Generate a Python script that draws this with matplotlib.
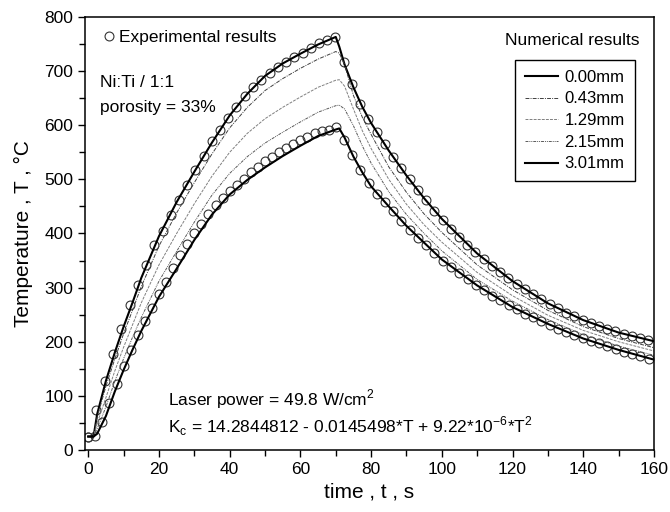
import matplotlib
matplotlib.use('Agg')
import matplotlib.pyplot as plt

plt.rcParams['font.family'] = ['Liberation Sans', 'DejaVu Sans']
plt.rcParams['mathtext.fontset'] = 'custom'
plt.rcParams['mathtext.rm'] = 'Liberation Sans'

# experimental points, surface (0.00 mm)
t_exp_top = [0, 2.3, 4.7, 7.0, 9.3, 11.7, 14.0, 16.3, 18.6, 21.0, 23.3, 25.6, 28.0, 30.3,
             32.6, 35.0, 37.3, 39.6, 41.9, 44.3, 46.6, 48.9, 51.3, 53.6, 55.9, 58.3, 60.6,
             62.9, 65.2, 67.6, 69.9, 72.2, 74.6, 76.9, 79.2, 81.6, 83.9, 86.2, 88.5, 90.9,
             93.2, 95.5, 97.9, 100.2, 102.5, 104.9, 107.2, 109.5, 111.8, 114.2, 116.5, 118.8,
             121.2, 123.5, 125.8, 128.2, 130.5, 132.8, 135.1, 137.5, 139.8, 142.1, 144.5,
             146.8, 149.1, 151.5, 153.8, 156.1, 158.4]
T_exp_top = [24, 74, 127, 178, 224, 268, 304, 342, 378, 405, 435, 462, 490, 517,
             544, 570, 592, 614, 634, 653, 670, 684, 696, 708, 717, 726, 734,
             742, 751, 758, 762, 717, 676, 640, 612, 588, 565, 542, 521, 500,
             480, 461, 442, 425, 409, 393, 379, 366, 353, 340, 329, 318,
             307, 297, 288, 279, 270, 262, 254, 247, 241, 235, 229,
             224, 219, 215, 211, 207, 204]

# experimental points, 3.01 mm
t_exp_bot = [0, 2, 4, 6, 8, 10, 12, 14, 16, 18, 20, 22, 24, 26, 28, 30, 32, 34, 36, 38,
             40, 42, 44, 46, 48, 50, 52, 54, 56, 58, 60, 62, 64, 66, 68, 70,
             72.3, 74.7, 77.0, 79.3, 81.6, 84.0, 86.3, 88.6, 91.0, 93.3, 95.6, 97.9,
             100.3, 102.6, 104.9, 107.3, 109.6, 111.9, 114.2, 116.6, 118.9, 121.2,
             123.6, 125.9, 128.2, 130.5, 132.9, 135.2, 137.5, 139.9, 142.2, 144.5,
             146.8, 149.2, 151.5, 153.8, 156.2, 158.5]
T_exp_bot = [25, 26, 52, 86, 122, 156, 184, 213, 239, 263, 289, 311, 337, 360, 380, 400,
             418, 436, 452, 466, 479, 490, 501, 513, 523, 533, 541, 550, 557, 565, 572,
             579, 585, 589, 592, 596,
             572, 545, 517, 493, 472, 458, 441, 423, 407, 391, 378, 364,
             350, 338, 327, 316, 305, 295, 285, 277, 268, 260,
             252, 245, 238, 231, 224, 218, 213, 207, 202, 197,
             192, 187, 182, 178, 173, 169]

# numerical results
t_num = [0, 1.5, 2.5, 5, 7.5, 10, 12.5, 15, 20, 25, 30, 35, 40, 45, 50, 55, 60, 65, 70,
         71, 72.5, 75, 77.5, 80, 85, 90, 95, 100, 110, 120, 130, 140, 150, 160]
T_000 = [25, 25, 66, 128, 180, 228, 272, 318, 395, 458, 514, 568, 618, 658, 691, 714, 732, 749, 763,
         745, 712, 670, 634, 604, 553, 507, 465, 427, 363, 312, 271, 240, 217, 201]
T_043 = [25, 25, 60, 118, 168, 215, 258, 302, 377, 438, 494, 547, 595, 633, 664, 686, 705, 722, 736,
         733, 712, 655, 615, 583, 523, 476, 436, 402, 342, 296, 258, 228, 206, 189]
T_129 = [25, 25, 49, 97, 146, 190, 231, 272, 342, 400, 455, 506, 550, 585, 612, 633, 652, 670, 683,
         684, 672, 630, 590, 557, 500, 454, 416, 384, 328, 285, 249, 221, 200, 183]
T_215 = [25, 25, 39, 80, 127, 169, 208, 245, 312, 367, 421, 471, 511, 542, 567, 587, 606, 624, 636,
         637, 630, 599, 562, 530, 477, 435, 400, 368, 315, 275, 241, 213, 192, 175]
T_301 = [25, 25, 30, 63, 108, 148, 185, 220, 283, 335, 388, 435, 472, 499, 522, 543, 562, 580, 592,
         594, 577, 542, 513, 487, 450, 414, 383, 352, 304, 264, 233, 206, 185, 167]

depth_labels = ['0.00mm', '0.43mm', '1.29mm', '2.15mm', '3.01mm']

fig = plt.figure(figsize=(6.7, 5.12), dpi=100)
ax = fig.add_axes([0.127, 0.121, 0.849, 0.846])

circ = dict(ls='none', marker='o', ms=6.4, mfc='none', mec='0.2', mew=0.8)
ax.plot(t_exp_top, T_exp_top, **circ)
exp_h, = ax.plot(t_exp_bot, T_exp_bot, **circ)

l0, = ax.plot(t_num, T_000, color='black', lw=1.5)
l1, = ax.plot(t_num, T_043, color='0.25', lw=0.7, dashes=(4, 1.2, 1, 1.2))
l2, = ax.plot(t_num, T_129, color='0.5', lw=0.7, dashes=(3, 1.2))
l3, = ax.plot(t_num, T_215, color='0.35', lw=0.7, dashes=(3, 1, 1, 1, 1, 1))
l4, = ax.plot(t_num, T_301, color='black', lw=1.5)

ax.set_xlim(-0.9, 160)
ax.set_ylim(0, 800)
ax.set_xticks(range(0, 161, 20))
ax.set_xticks(range(10, 160, 20), minor=True)
ax.set_yticks(range(0, 801, 100))
ax.set_yticks(range(50, 800, 100), minor=True)
ax.tick_params(which='both', direction='out', top=False, right=False, labelsize=12.5, width=1)
ax.tick_params(which='major', length=5)
ax.tick_params(which='minor', length=4)
for s in ax.spines.values():
    s.set_linewidth(1.1)

ax.set_xlabel('time , t , s', fontsize=15, labelpad=4)
ax.set_ylabel('Temperature , T , °C', fontsize=15, labelpad=8)

leg1 = ax.legend([exp_h], ['Experimental results'], loc='upper left', frameon=False,
                 fontsize=12.5, handlelength=0.6, handletextpad=0.3, numpoints=1,
                 bbox_to_anchor=(0.02, 0.985), borderaxespad=0)
ax.add_artist(leg1)
leg2 = ax.legend([l0, l1, l2, l3, l4], depth_labels, loc='upper left', fontsize=12,
                 bbox_to_anchor=(0.756, 0.901), borderaxespad=0, fancybox=False,
                 edgecolor='black', framealpha=1, handlelength=1.95, handletextpad=0.4,
                 labelspacing=0.4, borderpad=0.6)
leg2.get_frame().set_linewidth(1)

ax.text(0.975, 0.945, 'Numerical results', transform=ax.transAxes, ha='right', va='center',
        fontsize=12.5)
ax.text(0.027, 0.848, 'Ni:Ti / 1:1', transform=ax.transAxes, ha='left', va='center', fontsize=12.5)
ax.text(0.027, 0.79, 'porosity = 33%', transform=ax.transAxes, ha='left', va='center', fontsize=12.5)
ax.text(0.145, 0.118, r'Laser power = 49.8 W/cm$^{\mathregular{2}}$', transform=ax.transAxes,
        ha='left', va='center', fontsize=12.5)
ax.text(0.145, 0.055,
        r'K$_{\mathregular{c}}$ = 14.2844812 - 0.0145498*T + 9.22*10$^{\mathregular{-6}}$*T$^{\mathregular{2}}$',
        transform=ax.transAxes, ha='left', va='center', fontsize=12.5)

fig.savefig('out.png', dpi=100)
